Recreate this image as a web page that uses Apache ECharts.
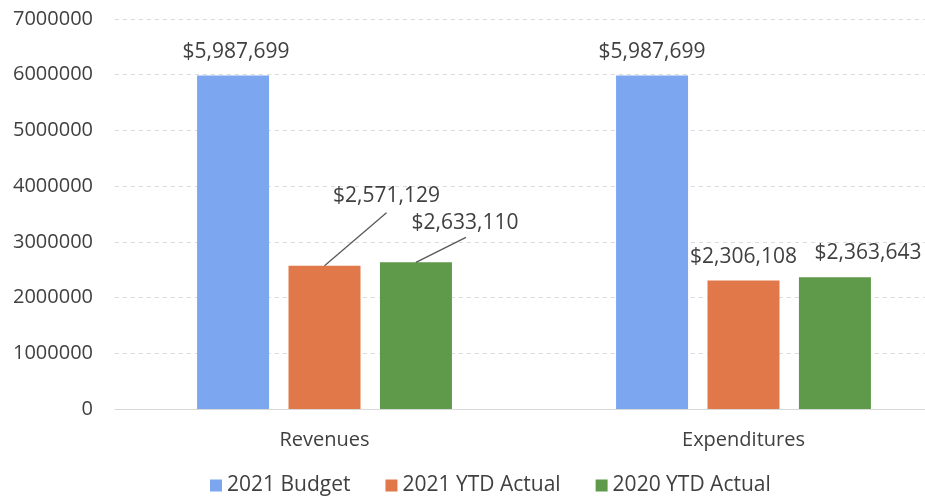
<!DOCTYPE html>
<html>
<head>
<meta charset="utf-8">
<script src="https://cdn.jsdelivr.net/npm/echarts@6/dist/echarts.min.js"></script>
<style>
  html, body { margin: 0; padding: 0; background: #fff; }
  #chart { width: 925px; height: 503px; }
</style>
</head>
<body>
<div id="chart"></div>
<script>
// categories and series values
var categories = ["Revenues", "Expenditures"];
var budget2021 = [5987699, 5987699];
var ytd2021 = [2571129, 2306108];
var ytd2020 = [2633110, 2363643];
var yTicks = [0, 1000000, 2000000, 3000000, 4000000, 5000000, 6000000, 7000000];

var font = "Open Sans";
var barW = 72;
var gapRatio = 0.27;

function money(v) {
  return "$" + Number(v).toLocaleString("en-US");
}

// label moves per series / category: [dx, dy]
var shift = [
  [[3, -5], [0, -5]],
  [[62, -51], [0, -5]],
  [[49, -21], [33, -6]]
];

function makeSeries(name, values, color, idx) {
  return {
    name: name,
    type: "bar",
    data: values,
    barWidth: barW,
    barGap: gapRatio * 100 + "%",
    itemStyle: { color: color },
    label: {
      show: true,
      position: "top",
      distance: 8,
      fontFamily: font,
      fontSize: 21,
      color: "#404040",
      formatter: function (p) { return money(p.value); }
    },
    labelLayout: function (p) {
      var s = shift[idx][p.dataIndex];
      return { dx: s[0], dy: s[1] };
    }
  };
}

// leader lines for the two moved Revenues labels:
// [category index, value, bar slot (-1,0,1), line end dx, line end dy]
var leaders = [
  [0, ytd2021[0], 0, 62, -53],
  [0, ytd2020[0], 1, 50, -25]
];

var myChart = echarts.init(document.getElementById("chart"));
myChart.setOption({
  animation: false,
  grid: { left: 115, top: 19, width: 838, height: 390, outerBoundsMode: "none" },
  legend: {
    bottom: 2,
    left: 205,
    itemWidth: 12,
    itemHeight: 12,
    itemGap: 35,
    icon: "rect",
    textStyle: { fontFamily: font, fontSize: 21, color: "#404040" },
    data: ["2021 Budget", "2021 YTD Actual", "2020 YTD Actual"]
  },
  xAxis: {
    type: "category",
    data: categories,
    axisTick: { show: false },
    axisLine: { lineStyle: { color: "#d9d9d9" } },
    axisLabel: { fontFamily: font, fontSize: 20, color: "#404040", margin: 21 }
  },
  yAxis: {
    type: "value",
    min: yTicks[0],
    max: yTicks[yTicks.length - 1],
    interval: 1000000,
    axisLine: { show: false },
    axisTick: { show: false },
    axisLabel: {
      fontFamily: font, fontSize: 20, color: "#404040", margin: 22,
      formatter: function (v) { return String(v); }
    },
    splitLine: { lineStyle: { color: "#dcdcdc", type: [4, 4] } }
  },
  series: [
    makeSeries("2021 Budget", budget2021, "#7da6f1", 0),
    makeSeries("2021 YTD Actual", ytd2021, "#e0784a", 1),
    makeSeries("2020 YTD Actual", ytd2020, "#5f9a4b", 2),
    {
      type: "custom",
      name: "leaders",
      z: 5,
      silent: true,
      data: leaders,
      renderItem: function (params, api) {
        var c = api.coord([api.value(0), api.value(1)]);
        var x0 = c[0] + api.value(2) * barW * (1 + gapRatio);
        var y0 = c[1];
        return {
          type: "line",
          shape: { x1: x0, y1: y0, x2: x0 + api.value(3), y2: y0 + api.value(4) },
          style: { stroke: "#595959", lineWidth: 1.3 }
        };
      }
    }
  ]
});
</script>
</body>
</html>
